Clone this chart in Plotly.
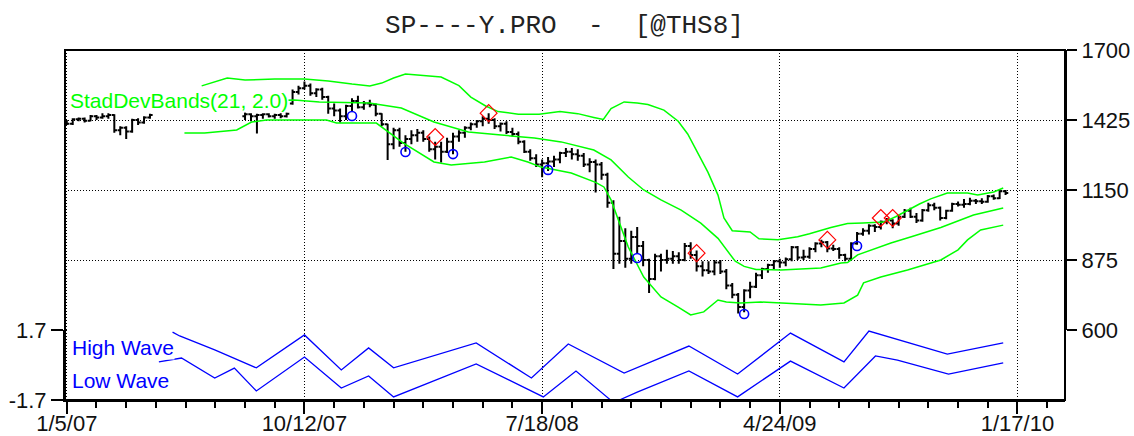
import plotly.graph_objects as go

# ---------------- data ----------------
# weekly bars, x = week index counted from 1/5/07
weeks = list(range(0, 15)) + list(range(30, 159))
opens = [1418, 1410, 1428, 1430, 1422, 1440, 1435, 1440, 1445, 1385, 1395, 1380, 1425, 1415, 1435,
         1440, 1448, 1440, 1445, 1448, 1440, 1445, 1440, 1490, 1535, 1550, 1560, 1530, 1545, 1515, 1470,
         1462, 1440, 1480, 1500, 1475, 1490, 1485, 1450, 1408, 1330, 1385, 1335, 1350, 1365, 1375, 1350,
         1310, 1320, 1300, 1340, 1360, 1375, 1395, 1408, 1420, 1430, 1425, 1400, 1410, 1378, 1370, 1340,
         1300, 1275, 1250, 1255, 1262, 1270, 1295, 1300, 1290, 1285, 1250, 1260, 1250, 1210, 1100, 900,
         950, 880, 965, 930, 875, 800, 890, 875, 880, 890, 875, 930, 895, 850, 835, 830,
         865, 830, 775, 738, 690, 755, 770, 815, 840, 855, 870, 865, 878, 925, 885, 888,
         918, 940, 945, 920, 918, 895, 880, 940, 978, 990, 1010, 1005, 1025, 1030, 1018, 1045,
         1068, 1045, 1030, 1070, 1090, 1080, 1040, 1068, 1095, 1092, 1095, 1108, 1106, 1104, 1125, 1118,
         1145]
highs = [1425, 1432, 1435, 1435, 1445, 1445, 1452, 1452, 1448, 1400, 1400, 1430, 1432, 1440, 1450,
         1455, 1452, 1450, 1452, 1452, 1450, 1452, 1455, 1545, 1560, 1576, 1568, 1550, 1552, 1520, 1490,
         1470, 1485, 1510, 1520, 1500, 1505, 1490, 1452, 1410, 1395, 1395, 1365, 1385, 1390, 1385, 1360,
         1340, 1340, 1355, 1375, 1385, 1400, 1415, 1425, 1440, 1452, 1432, 1415, 1420, 1395, 1380, 1345,
         1310, 1290, 1270, 1280, 1285, 1300, 1315, 1315, 1310, 1295, 1275, 1270, 1260, 1218, 1110, 1045,
         1000, 990, 1005, 950, 880, 900, 900, 915, 910, 905, 942, 945, 912, 870, 870, 875,
         875, 840, 785, 745, 760, 790, 825, 845, 860, 875, 880, 885, 930, 930, 915, 925,
         945, 955, 950, 935, 925, 900, 945, 985, 1000, 1015, 1015, 1030, 1040, 1035, 1050, 1075,
         1080, 1060, 1075, 1100, 1100, 1085, 1072, 1100, 1105, 1115, 1120, 1115, 1118, 1130, 1132, 1150,
         1150]
lows = [1405, 1405, 1420, 1415, 1420, 1425, 1430, 1430, 1375, 1365, 1350, 1375, 1405, 1410, 1430,
        1425, 1420, 1372, 1430, 1435, 1430, 1432, 1435, 1485, 1525, 1545, 1520, 1515, 1505, 1450, 1440,
        1415, 1425, 1460, 1470, 1465, 1475, 1440, 1400, 1268, 1310, 1320, 1300, 1330, 1340, 1340, 1300,
        1270, 1258, 1295, 1290, 1340, 1355, 1385, 1395, 1400, 1410, 1390, 1380, 1370, 1360, 1330, 1295,
        1265, 1240, 1200, 1225, 1240, 1255, 1280, 1270, 1265, 1240, 1220, 1140, 1190, 1080, 840, 860,
        845, 860, 900, 850, 745, 795, 830, 860, 860, 860, 870, 880, 830, 810, 820, 815,
        820, 760, 725, 665, 670, 725, 765, 800, 825, 840, 845, 850, 870, 875, 875, 880,
        905, 925, 905, 910, 880, 870, 875, 935, 970, 975, 985, 995, 1015, 1000, 1010, 1040,
        1040, 1020, 1025, 1065, 1070, 1030, 1035, 1065, 1085, 1080, 1090, 1095, 1095, 1100, 1112, 1115,
        1130]
closes = [1410, 1428, 1430, 1422, 1440, 1435, 1440, 1445, 1385, 1395, 1380, 1425, 1415, 1435, 1445,
          1448, 1440, 1445, 1448, 1440, 1445, 1440, 1450, 1535, 1550, 1560, 1530, 1545, 1515, 1470, 1462,
          1440, 1480, 1500, 1475, 1490, 1485, 1450, 1408, 1330, 1385, 1335, 1350, 1365, 1375, 1350, 1310,
          1320, 1300, 1340, 1360, 1375, 1395, 1408, 1420, 1430, 1425, 1400, 1410, 1378, 1370, 1340, 1300,
          1275, 1250, 1255, 1262, 1270, 1295, 1300, 1290, 1285, 1250, 1260, 1250, 1210, 1100, 900, 950,
          880, 965, 930, 875, 800, 890, 875, 880, 890, 875, 930, 895, 850, 835, 830, 865,
          830, 775, 738, 690, 755, 770, 815, 840, 855, 870, 865, 878, 925, 885, 888, 918,
          940, 945, 920, 918, 895, 880, 940, 978, 990, 1010, 1005, 1025, 1030, 1018, 1045, 1068,
          1045, 1030, 1070, 1090, 1080, 1040, 1068, 1095, 1092, 1095, 1108, 1106, 1104, 1125, 1118, 1145,
          1138]

# Standard deviation bands (21, 2.0)
upper_w = [22.7, 25, 27, 30, 35, 40, 44, 48, 51, 53, 55, 57, 60, 63, 66, 68, 70.5, 72.6, 76, 79.5,
           83, 86, 88.7, 90.3, 91.6, 93.8, 96, 97.8, 100.5, 102.9, 104.5, 105.5, 107.9, 109.6, 110.6,
           112, 115, 116.5, 119.7, 123, 125, 128.6, 131.4, 134, 137.5, 139.5, 141.5, 143.5, 145.4,
           148.2, 151.6, 153.3, 156, 157.6]
upper_v = [1559, 1575, 1590, 1582, 1586, 1586, 1578, 1566, 1559, 1570, 1590, 1606, 1600, 1594, 1560,
           1515, 1480, 1458, 1448, 1448, 1458, 1450, 1435, 1427, 1470, 1496, 1492, 1486, 1464, 1420,
           1370, 1325, 1220, 1130, 1040, 990, 985, 958, 955, 966, 978, 1003, 1018, 1020, 1024, 1045,
           1071, 1095, 1115, 1138, 1138, 1130, 1142, 1158]
mid_w = [21, 30, 38.3, 42.5, 50.9, 56.3, 61.8, 67.6, 73.1, 78.7, 83.2, 88.7, 91.6, 94.5, 97.1, 100,
         103.4, 106.7, 109.6, 111, 112.5, 114, 116, 120.2, 123, 126.9, 130.3, 131.4, 133.1, 136.5,
         138.7, 142, 147.1, 152.6, 156, 157.6]
mid_v = [1490, 1500, 1504, 1496, 1492, 1472, 1417, 1378, 1366, 1354, 1339, 1307, 1268, 1201, 1150,
         1111, 1071, 1020, 960, 915, 870, 850, 838, 836, 840, 844, 863, 865, 895, 922, 942, 965, 1003,
         1052, 1071, 1079]
lower_w = [19.8, 23.2, 28.6, 31.1, 33.6, 43.7, 45.4, 52.1, 56.6, 61.8, 64.7, 70.3, 74.8, 77.6, 79.8,
           84.9, 89, 90.4, 91.6, 92.8, 94.5, 97.1, 100, 102.9, 105, 107.2, 109.6, 111, 113.4, 116.8,
           120.2, 126.9, 130.8, 133.1, 134.1, 137, 141.5, 147.1, 150, 151.6, 153.8, 157.6]
lower_v = [1374, 1374, 1386, 1417, 1425, 1425, 1413, 1413, 1335, 1260, 1248, 1260, 1280, 1260, 1240,
           1217, 1180, 1162, 1111, 1032, 926, 808, 730, 690, 659, 671, 718, 710, 706, 710, 706, 698,
           706, 737, 785, 808, 836, 875, 915, 954, 993, 1012]

# signal markers
circle_w = [48, 57, 65, 81, 96, 114, 133]
circle_v = [1441, 1299, 1291, 1229, 883, 663, 930]
diamond_w = [62, 71, 106, 128, 137, 139]
diamond_v = [1358, 1452, 902, 954, 1040, 1040]

# lower panel: waves
high_w = [17.8, 19, 24.9, 31.9, 40, 46.2, 50.8, 55, 68.9, 78.2, 84.4, 93.8, 104.7, 112.9, 121.8,
          130.8, 135, 148.2, 157.6]
high_v = [1.60, 1.41, 0.73, -0.14, 1.46, -0.24, 0.83, -0.14, 1.07, -0.63, 1.02, -0.39, 0.92, -0.44,
          1.55, 0.15, 1.65, 0.53, 1.07]
low_w = [15.5, 19.3, 24.9, 28.2, 31.9, 40, 46.2, 50.8, 55, 68.9, 80.2, 85.7, 91.6, 93, 96.1,
         104.7, 112.9, 121.8, 130.8, 136.1, 139.8, 148.4, 157.6]
low_v = [0.15, 0.34, -0.63, -0.15, -1.26, 0.39, -1.12, -0.53, -1.55, 0.05, -1.55, -0.29, -1.72,
         -1.70, -1.31, -0.29, -1.55, 0.19, -1.12, 0.44, 0.24, -0.44, 0.10]

tick_weeks = [0, 40, 80, 120, 160]
tick_labels = ["1/5/07", "10/12/07", "7/18/08", "4/24/09", "1/17/10"]
minor_weeks = list(range(0, 170, 5))
price_ticks = [600, 875, 1150, 1425, 1700]

# ---------------- figure ----------------
GREEN = "#00FF00"
BLUE = "#0000FF"
FONT = "Liberation Sans, Arial, sans-serif"
GRID = "1px,2px"

fig = go.Figure()
fig.add_trace(go.Ohlc(x=weeks, open=opens, high=highs, low=lows, close=closes,
                      increasing=dict(line=dict(color="black", width=2)),
                      decreasing=dict(line=dict(color="black", width=2)),
                      tickwidth=0.45, showlegend=False, hoverinfo="skip",
                      xaxis="x", yaxis="y"))
for bw, bv in [(upper_w, upper_v), (mid_w, mid_v), (lower_w, lower_v)]:
    fig.add_trace(go.Scatter(x=bw, y=bv, mode="lines", line=dict(color=GREEN, width=1.5),
                             showlegend=False, hoverinfo="skip", xaxis="x", yaxis="y"))
fig.add_trace(go.Scatter(x=circle_w, y=circle_v, mode="markers",
                         marker=dict(symbol="circle-open", size=9, color=BLUE, line=dict(width=1.6)),
                         showlegend=False, xaxis="x", yaxis="y"))
fig.add_trace(go.Scatter(x=diamond_w, y=diamond_v, mode="markers",
                         marker=dict(symbol="diamond-open", size=13, color="#FF0000", line=dict(width=1.2)),
                         showlegend=False, xaxis="x", yaxis="y"))
fig.add_trace(go.Scatter(x=high_w, y=high_v, mode="lines", line=dict(color=BLUE, width=1.3),
                         showlegend=False, xaxis="x", yaxis="y2"))
fig.add_trace(go.Scatter(x=low_w, y=low_v, mode="lines", line=dict(color=BLUE, width=1.3),
                         showlegend=False, xaxis="x", yaxis="y2"))

axis_font = dict(family=FONT, size=22, color="#111111")
fig.update_layout(
    width=1134, height=436,
    margin=dict(l=65, r=69, t=50, b=36),
    paper_bgcolor="white", plot_bgcolor="white",
    title=dict(text="SP----Y.PRO\u00a0\u00a0-\u00a0\u00a0[@THS8]", x=0.4978, xref="container",
               xanchor="center", y=0.945, yref="container", yanchor="middle",
               font=dict(family="Liberation Mono, DejaVu Sans Mono, monospace", size=26, color="#222222")),
    xaxis=dict(domain=[0, 1], range=[-0.3, 168], anchor="y2", automargin=False,
               tickmode="array", tickvals=tick_weeks, ticktext=tick_labels,
               ticks="outside", ticklen=12, tickwidth=2, tickcolor="black",
               ticklabelstandoff=-9,
               showgrid=True, gridcolor="black", gridwidth=1, griddash=GRID,
               showline=True, linecolor="black", linewidth=2, zeroline=False,
               tickfont=axis_font,
               minor=dict(tickmode="array", tickvals=minor_weeks, ticks="outside", ticklen=6,
                          tickwidth=2, tickcolor="black", showgrid=False),
               rangeslider=dict(visible=False)),
    yaxis=dict(domain=[0.2, 1], range=[600, 1700], anchor="x", side="right", automargin=False,
               tickmode="array", tickvals=price_ticks,
               ticks="outside", ticklen=10, tickwidth=2, tickcolor="black",
               showgrid=True, gridcolor="black", gridwidth=1, griddash=GRID,
               showline=True, linecolor="black", linewidth=2, zeroline=False,
               tickfont=axis_font),
    yaxis2=dict(domain=[0, 0.2], range=[-1.7, 1.7], anchor="x", side="left", automargin=False,
                tickmode="array", tickvals=[-1.7, 1.7], ticktext=["-1.7", "1.7"],
                ticks="outside", ticklen=12, tickwidth=2, tickcolor="black",
                showgrid=True, gridcolor="black", gridwidth=1, griddash=GRID,
                showline=True, linecolor="black", linewidth=2, zeroline=False,
                tickfont=axis_font),
    shapes=[dict(type="rect", xref="paper", yref="paper", x0=0, x1=1, y0=0, y1=1,
                 line=dict(color="black", width=2), fillcolor="rgba(0,0,0,0)", layer="above")],
    annotations=[
        dict(text="StadDevBands(21, 2.0)", xref="paper", yref="paper", x=0.004, y=0.857,
             xanchor="left", yanchor="middle", showarrow=False, bgcolor="white", borderpad=0,
             font=dict(family=FONT, size=21, color=GREEN)),
        dict(text="High Wave", xref="paper", yref="paper", x=0.006, y=0.1514,
             xanchor="left", yanchor="middle", showarrow=False, bgcolor="white", borderpad=0,
             font=dict(family=FONT, size=21, color=BLUE)),
        dict(text="Low Wave", xref="paper", yref="paper", x=0.006, y=0.0543,
             xanchor="left", yanchor="middle", showarrow=False, bgcolor="white", borderpad=0,
             font=dict(family=FONT, size=21, color=BLUE)),
    ],
)

fig.write_html("out.html", config={"displayModeBar": False},
               post_script="document.body.style.margin='0';document.body.style.overflow='hidden';")
